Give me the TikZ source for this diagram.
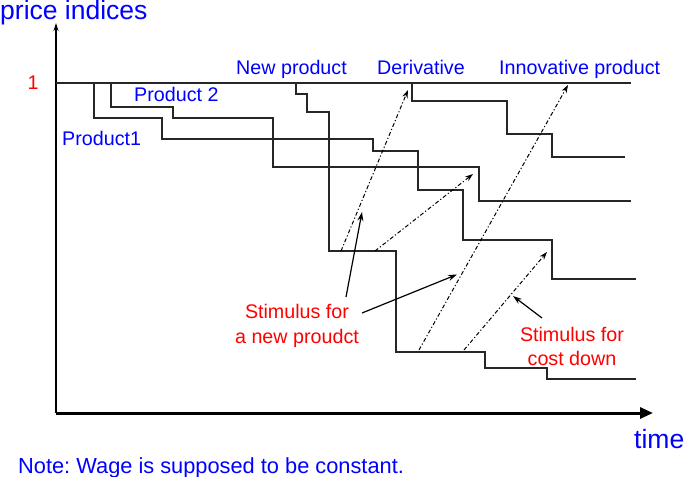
\documentclass[tikz,border=0pt]{standalone}
\usepackage{fontspec}
\setmainfont{Liberation Sans}
\usetikzlibrary{arrows.meta}
\definecolor{lblblue}{RGB}{0,0,255}
\definecolor{lblred}{RGB}{255,0,0}
\frenchspacing
\begin{document}
\begin{tikzpicture}[x=1bp,y=-1bp,
  stepline/.style={line width=1.2bp, black!85},
  dashdot/.style={line width=1bp, dash pattern=on 4bp off 2.2bp on 1.2bp off 2.2bp, -{Stealth[length=8bp,width=5.5bp]}},
  pointer/.style={line width=1.2bp, -{Stealth[length=9bp,width=6bp]}},
  bluelbl/.style={text=lblblue, inner sep=0pt, font=\fontsize{19.7bp}{24bp}\selectfont},
  redlbl/.style={text=lblred, inner sep=0pt, font=\fontsize{19.7bp}{24bp}\selectfont},
  biglbl/.style={text=lblblue, inner sep=0pt, font=\fontsize{26.5bp}{30bp}\selectfont},
  notelbl/.style={text=lblblue, inner sep=0pt, font=\fontsize{21.8bp}{26bp}\selectfont\frenchspacing}
]
\useasboundingbox (0,0) rectangle (685,477);

% axes
\coordinate (O) at (56,413);
\coordinate (ytop) at (56,23);
\coordinate (xend) at (653,413);
\draw[line width=1.2bp, -{Stealth[length=8bp,width=5bp]}] (O) -- (ytop);
\draw[line width=3bp, -{Triangle[length=13bp,width=11bp]}] (O) -- (xend);

% price lines
\coordinate (topL) at (56,83);
\coordinate (topR) at (631,83);
\draw[stepline] (topL) -- (topR);
\draw[stepline] (94,83) |- (162,118) |- (373,139) |- (418,151) |- (463,190) |- (552,240) |- (636,279);
\draw[stepline] (111,83) |- (173,107) |- (273,118) |- (479,167) |- (631,201);
\draw[stepline] (296,83) |- (307,94) |- (329,112) |- (396,251) |- (485,352) |- (547,368) |- (636,379);
\draw[stepline] (412,83) |- (507,101) |- (552,134) |- (625,157);

% dash-dot arrows
\coordinate (d1s) at (341,251); \coordinate (d1e) at (408,90);
\coordinate (d2s) at (375,251); \coordinate (d2e) at (473,174);
\coordinate (d3s) at (419,350); \coordinate (d3e) at (568,85);
\coordinate (d4s) at (464,350); \coordinate (d4e) at (547,252);
\draw[dashdot] (d1s) -- (d1e);
\draw[dashdot] (d2s) -- (d2e);
\draw[dashdot] (d3s) -- (d3e);
\draw[dashdot] (d4s) -- (d4e);

% pointers
\coordinate (p1s) at (346,297); \coordinate (p1e) at (362,212);
\coordinate (p2s) at (362,313); \coordinate (p2e) at (457,274.5);
\coordinate (p3s) at (542,318); \coordinate (p3e) at (513,296);
\draw[pointer] (p1s) -- (p1e);
\draw[pointer] (p2s) -- (p2e);
\draw[pointer] (p3s) -- (p3e);

% labels
\node[biglbl, anchor=base west] (pidx) at (0,20) {price indices};
\node[biglbl, anchor=base west] (time) at (634,448) {time};
\node[notelbl, anchor=base west] (note) at (18,473) {Note: Wage is supposed to be constant.};
\node[redlbl, anchor=base] (one) at (33,90) {1};
\node[bluelbl, anchor=base west] (newprod) at (236,75) {New product};
\node[bluelbl, anchor=base west] (deriv) at (377,75) {Derivative};
\node[bluelbl, anchor=base west] (innov) at (499,75) {Innovative product};
\node[bluelbl, anchor=base west] (prod2) at (134,102) {Product 2};
\node[bluelbl, anchor=base west] (prod1) at (62,146) {Product1};
\node[redlbl, anchor=base] (stimA1) at (297,318) {Stimulus for};
\node[redlbl, anchor=base] (stimA2) at (297,343) {a new proudct};
\node[redlbl, anchor=base] (stimB1) at (572,341) {Stimulus for};
\node[redlbl, anchor=base] (stimB2) at (572,365) {cost down};
\end{tikzpicture}
\end{document}
